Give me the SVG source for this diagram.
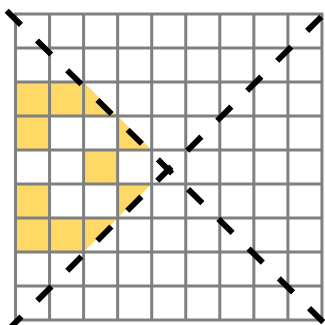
<svg xmlns="http://www.w3.org/2000/svg" width="325" height="325" viewBox="0 0 325 325">
  <style>
    .fill { fill: #FFD966; stroke: none; }
    .grid { fill: none; stroke: #808080; stroke-width: 3; stroke-linecap: square; }
    .diag { fill: none; stroke: #000000; stroke-width: 5.8; stroke-linecap: butt; stroke-dasharray: 20 22.4; }
  </style>
  <rect x="0" y="0" width="325" height="325" fill="#ffffff"/>
  <g id="cells">
    <rect class="fill" x="15.5" y="82" width="68.1" height="34"/>
    <polygon class="fill" points="83.6,82 83.6,116 117.65,116"/>
    <rect class="fill" x="15.5" y="116" width="34.05" height="34"/>
    <polygon class="fill" points="117.65,116 117.65,150 151.7,150"/>
    <rect class="fill" x="83.6" y="150" width="34.05" height="34"/>
    <rect class="fill" x="15.5" y="184" width="34.05" height="34"/>
    <polygon class="fill" points="117.65,184 151.7,184 117.65,218"/>
    <rect class="fill" x="15.5" y="218" width="68.1" height="34"/>
    <polygon class="fill" points="83.6,218 117.65,218 83.6,252"/>
  </g>
  <g id="grid">
    <path class="grid" d="M15.5,14V320 M49.55,14V320 M83.6,14V320 M117.65,14V320 M151.7,14V320 M185.75,14V320 M219.8,14V320 M253.85,14V320 M287.9,14V320 M321.95,14V320
      M15.5,14H321.95 M15.5,48H321.95 M15.5,82H321.95 M15.5,116H321.95 M15.5,150H321.95 M15.5,184H321.95 M15.5,218H321.95 M15.5,252H321.95 M15.5,286H321.95 M15.5,320H321.95"/>
  </g>
  <g id="connectors">
    <line id="diag-main" class="diag" x1="6.7" y1="10.8" x2="335" y2="333.6"/>
    <line id="diag-anti" class="diag" x1="321.3" y1="16.7" x2="-5" y2="343"/>
  </g>
</svg>
